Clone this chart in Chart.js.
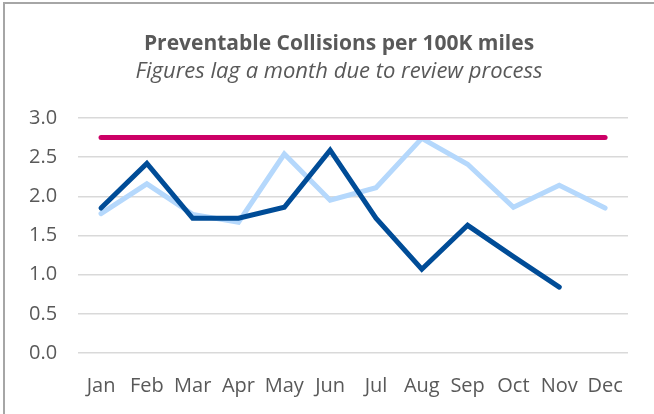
<!DOCTYPE html>
<html>
<head>
<meta charset="utf-8">
<script src="https://cdn.jsdelivr.net/npm/chart.js@4.4.0/dist/chart.umd.min.js"></script>
<style>
    html, body { margin: 0; padding: 0; background: #ffffff; overflow: hidden; }
    #frame {
        position: absolute; left: 3px; top: 2px; width: 700px; height: 460px;
        border: 2px solid #a6a6a6;
    }
    #chart1 { position: absolute; left: 0; top: 0; }
</style>
</head>
<body>
<div id="frame"></div>
<canvas id="chart1" width="654" height="414"></canvas>
<script>
var meses = ['Jan', 'Feb', 'Mar', 'Apr', 'May', 'Jun', 'Jul', 'Aug', 'Sep', 'Oct', 'Nov', 'Dec'];
var esteAnio = [1.85, 2.42, 1.72, 1.72, 1.86, 2.59, 1.72, 1.07, 1.63, 1.23, 0.84, null];
var anioPasado = [1.78, 2.16, 1.77, 1.67, 2.54, 1.95, 2.11, 2.74, 2.41, 1.86, 2.14, 1.85];
var meta = [2.75, 2.75, 2.75, 2.75, 2.75, 2.75, 2.75, 2.75, 2.75, 2.75, 2.75, 2.75];
var ticksY = [0, 0.5, 1, 1.5, 2, 2.5, 3];
var titulo = 'Preventable Collisions per 100K miles';
var subtitulo = 'Figures lag a month due to review process';

var datos = {
    labels: meses,
    datasets: [{
        label: "Target",
        data: meta,
        borderColor: "#cc0066",
        borderWidth: 5,
        borderCapStyle: 'round',
        pointRadius: 0,
        order: 0
    }, {
        label: "This Year",
        data: esteAnio,
        borderColor: "#004c97",
        borderWidth: 5,
        borderCapStyle: 'round',
        borderJoinStyle: 'miter',
        pointRadius: 0,
        order: 1
    }, {
        label: "Last Year",
        data: anioPasado,
        borderColor: "#b5d8fc",
        borderWidth: 5,
        borderCapStyle: 'round',
        borderJoinStyle: 'miter',
        pointRadius: 0,
        order: 2
    }]
};

// titulos centrados sobre el marco, no sobre el area del grafico
var pluginTitulos = {
    id: 'titulos',
    afterDraw: function (chart) {
        var ctx = chart.ctx;
        ctx.save();
        ctx.fillStyle = '#595959';
        ctx.textAlign = 'center';
        ctx.textBaseline = 'alphabetic';
        ctx.font = 'bold 21px "Open Sans"';
        ctx.fillText(titulo, 339, 50);
        ctx.font = 'italic 22px "Open Sans"';
        ctx.fillText(subtitulo, 339, 78);
        ctx.restore();
    }
};

var canvas = document.getElementById('chart1').getContext('2d');

window.linea = new Chart(canvas, {
    type: 'line',
    data: datos,
    plugins: [pluginTitulos],
    options: {
        responsive: false,
        animation: false,
        layout: {
            padding: { left: 8, right: 26, top: 118, bottom: -5 }
        },
        plugins: {
            legend: { display: false },
            tooltip: { enabled: false },
            title: { display: false }
        },
        scales: {
            x: {
                offset: true,
                grid: { display: false, drawTicks: false },
                border: { display: false },
                ticks: {
                    color: '#595959',
                    font: { family: 'Open Sans', size: 20, lineHeight: 1.2 },
                    padding: 21,
                    maxRotation: 0
                }
            },
            y: {
                min: 0,
                max: 3,
                afterBuildTicks: function (eje) {
                    eje.ticks = ticksY.map(function (v) { return { value: v }; });
                },
                grid: { color: '#d9d9d9', lineWidth: 1.5, drawTicks: false },
                border: { display: false },
                ticks: {
                    color: '#595959',
                    font: { family: 'Open Sans', size: 20, lineHeight: 1.2 },
                    padding: 21,
                    callback: function (v) { return Number(v).toFixed(1); }
                }
            }
        }
    }
});
</script>
</body>
</html>
